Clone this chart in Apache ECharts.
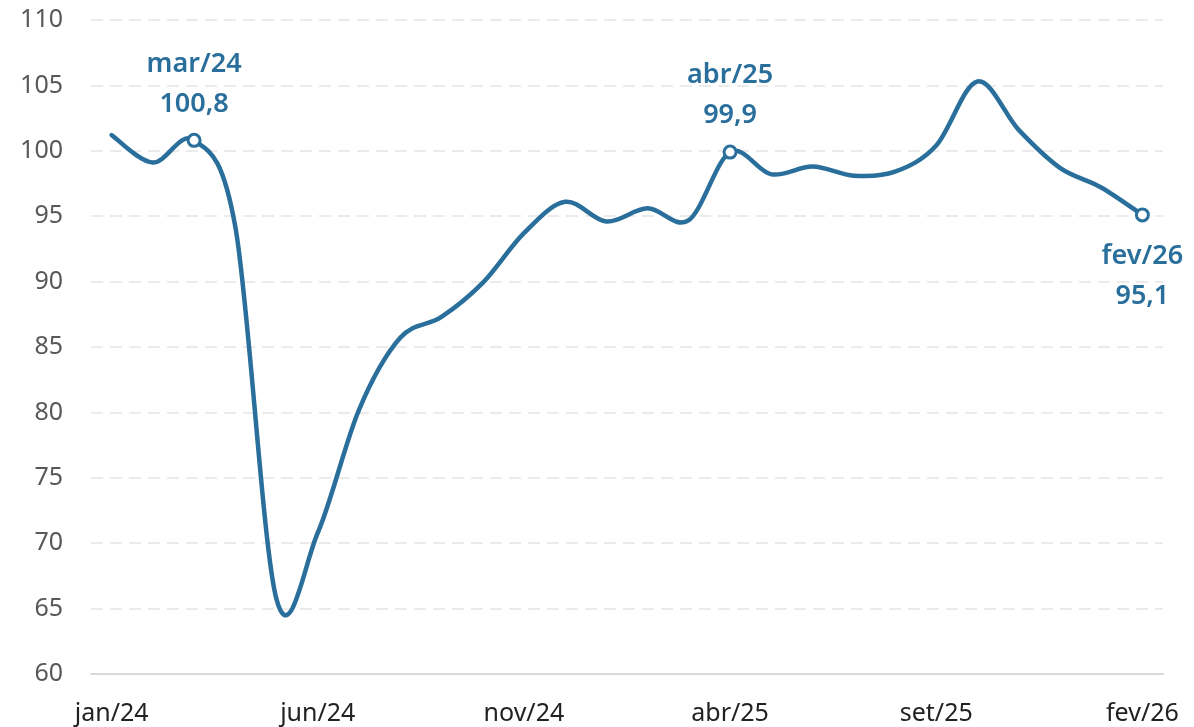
<!DOCTYPE html>
<html>
<head>
<meta charset="utf-8">
<script src="https://cdn.jsdelivr.net/npm/echarts@6/dist/echarts.min.js"></script>
<style>
  html, body { margin: 0; padding: 0; background: #fff; }
  #chart { width: 1194px; height: 727px; }
</style>
</head>
<body>
<div id="chart"></div>
<script>
// Monthly index, jan/24 to fev/26
const months = ['jan/24','fev/24','mar/24','abr/24','mai/24','jun/24','jul/24','ago/24','set/24','out/24','nov/24','dez/24',
  'jan/25','fev/25','mar/25','abr/25','mai/25','jun/25','jul/25','ago/25','set/25','out/25','nov/25','dez/25',
  'jan/26','fev/26'];
const values = [101.2, 99.1, 100.8, 94.2, 65.7, 70.8, 80.2, 85.7, 87.3, 89.9, 93.7, 96.1,
  94.6, 95.6, 94.7, 99.9, 98.2, 98.8, 98.1, 98.4, 100.4, 105.3, 101.6, 98.7,
  97.2, 95.1];
// Highlighted months and where their callout sits
const highlights = ['mar/24', 'abr/25', 'fev/26'];
const highlightSide = ['top', 'top', 'bottom'];

const BLUE = '#2a6f9c';
const FONT = '"Noto Sans", sans-serif';

const fmt = v => v.toFixed(1).replace('.', ',');

// Cardinal (Catmull-Rom) spline through pixel points, as cubic Bezier path data
function cardinalPath(pts) {
  let d = 'M' + pts[0][0] + ',' + pts[0][1];
  for (let i = 0; i < pts.length - 1; i++) {
    const p0 = pts[i - 1] || pts[i];
    const p1 = pts[i];
    const p2 = pts[i + 1];
    const p3 = pts[i + 2] || pts[i + 1];
    const c1 = [p1[0] + (p2[0] - p0[0]) / 6, p1[1] + (p2[1] - p0[1]) / 6];
    const c2 = [p2[0] - (p3[0] - p1[0]) / 6, p2[1] - (p3[1] - p1[1]) / 6];
    d += 'C' + c1[0] + ',' + c1[1] + ',' + c2[0] + ',' + c2[1] + ',' + p2[0] + ',' + p2[1];
  }
  return d;
}

const highlightData = highlights.map((m, h) => {
  const i = months.indexOf(m);
  const side = highlightSide[h];
  return {
    value: [i, values[i]],
    label: {
      show: true,
      position: side,
      distance: side === 'top' ? 9 : 14,
      formatter: months[i] + '\n' + fmt(values[i]),
      color: BLUE,
      fontFamily: FONT,
      fontWeight: 600,
      fontSize: 27,
      lineHeight: 40,
      align: 'center'
    }
  };
});

const chart = echarts.init(document.getElementById('chart'), null, { renderer: 'canvas' });
chart.setOption({
  animation: false,
  backgroundColor: '#fff',
  grid: { left: 91, right: 31, top: 20, bottom: 53, containLabel: false },
  xAxis: {
    type: 'category',
    data: months,
    boundaryGap: true,
    axisLine: { show: true, lineStyle: { color: '#d9d9d9', width: 2 } },
    axisTick: { show: false },
    axisLabel: {
      interval: 4,
      margin: 27,
      color: '#222',
      fontFamily: FONT,
      fontSize: 25
    },
    splitLine: { show: false }
  },
  yAxis: {
    type: 'value',
    min: 60,
    max: 110,
    interval: 5,
    axisLine: { show: false },
    axisTick: { show: false },
    axisLabel: {
      margin: 28,
      color: '#595959',
      fontFamily: FONT,
      fontSize: 25
    },
    splitLine: { show: true, lineStyle: { color: '#ebebeb', width: 2, type: [12, 7] } }
  },
  series: [{
    // the index line, drawn once as a single smooth path
    type: 'custom',
    coordinateSystem: 'cartesian2d',
    data: values.map((v, i) => [i, v]),
    encode: { x: 0, y: 1 },
    clip: false,
    z: 2,
    renderItem: (params, api) => {
      if (params.dataIndex !== 0) return;
      const pts = values.map((v, i) => api.coord([i, v]));
      return {
        type: 'path',
        shape: { pathData: cardinalPath(pts) },
        style: { fill: 'none', stroke: BLUE, lineWidth: 4.5, lineJoin: 'round', lineCap: 'round' }
      };
    }
  }, {
    // highlighted months: open markers with month and value
    type: 'scatter',
    data: highlightData,
    symbol: 'circle',
    symbolSize: 12,
    itemStyle: { color: '#fff', borderColor: BLUE, borderWidth: 3, opacity: 1 },
    z: 5
  }]
});
</script>
</body>
</html>
